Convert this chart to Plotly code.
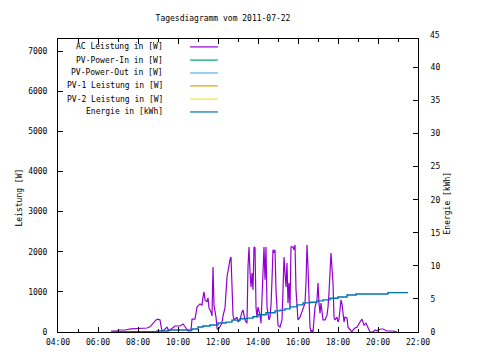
import plotly.graph_objects as go

DAY = "2011-07-22"

# AC Leistung [W]
ac_times = ["06:39","06:54","07:03","07:21","07:39","08:06","08:27","08:36","08:45","08:54",
            "09:00","09:06","09:09","09:12","09:18","09:27","09:33","09:42","09:51","10:06",
            "10:15","10:24","10:30","10:39","10:42","10:51","10:54","10:57","11:06","11:12",
            "11:15","11:18","11:21","11:27","11:30","11:33","11:39","11:42","11:45","11:48",
            "11:54","11:57","12:00","12:06","12:12","12:15","12:21","12:27","12:30","12:36",
            "12:39","12:42","12:45","12:48","12:57","13:00","13:06","13:12","13:15","13:21",
            "13:27","13:30","13:33","13:36","13:39","13:42","13:45","13:48","13:51","13:54",
            "13:57","14:00","14:06","14:09","14:12","14:15","14:18","14:21","14:24","14:27",
            "14:30","14:33","14:36","14:39","14:42","14:45","14:48","14:51","14:54","14:57",
            "15:00","15:06","15:12","15:15","15:18","15:21","15:24","15:27","15:30","15:33",
            "15:36","15:39","15:45","15:48","15:51","15:54","15:57","16:00","16:06","16:12",
            "16:15","16:21","16:24","16:27","16:30","16:33","16:36","16:39","16:42","16:45",
            "16:48","16:51","16:57","17:00","17:03","17:06","17:09","17:12","17:15","17:21",
            "17:27","17:30","17:33","17:39","17:42","17:45","17:48","17:51","17:57","18:00",
            "18:03","18:09","18:12","18:15","18:18","18:21","18:27","18:30","18:36","18:42",
            "18:45","18:51","18:57","19:00","19:06","19:12","19:15","19:18","19:24","19:27",
            "19:30","19:36","19:45","19:51","19:57","20:00","20:09","20:15","20:27","20:45",
            "20:57"]
ac_watt = [20,20,50,50,80,100,100,130,220,300,
           320,300,150,30,50,120,30,100,150,150,
           200,100,30,30,320,320,550,620,700,670,
           870,1000,800,750,850,600,500,400,1620,670,
           370,100,50,120,220,400,600,1370,1550,1800,
           1870,1100,420,300,370,250,300,500,550,300,
           220,1620,2120,1500,1120,1470,1050,2120,2100,620,
           370,620,420,220,1050,1800,2120,1300,2120,620,
           370,300,370,670,1300,2050,1970,2050,1050,620,
           170,120,300,1050,1870,1470,1120,1720,720,1220,
           620,2120,2120,2050,2170,1050,550,300,370,500,
           600,720,1220,2170,1620,800,120,0,50,0,
           370,620,800,1220,720,470,720,500,300,300,
           420,620,970,1970,1600,1220,370,300,370,250,
           320,800,700,370,250,370,350,120,50,0,
           50,100,120,170,250,320,250,170,220,170,
           100,0,0,50,25,50,75,75,25,25,
           0]

# Energie [kWh]
en_times = ["06:45","08:57","09:30","10:42","11:00","11:15","11:36","12:00","12:24","12:42",
            "13:06","13:27","13:45","14:00","14:24","14:51","15:06","15:21","15:36","15:57",
            "16:15","16:36","16:57","17:15","17:36","18:00","18:27","18:54","20:30","21:30"]
en_kwh = [0.05,0.15,0.3,0.45,0.75,0.9,1.06,1.36,1.5,1.8,
          2.0,2.1,2.3,2.6,2.9,3.2,3.3,3.5,3.8,4.1,
          4.4,4.5,4.7,4.85,5.1,5.3,5.6,5.75,5.95,5.95]

legend_names = ["AC Leistung in [W]", "PV-Power-In in [W]", "PV-Power-Out in [W]",
                "PV-1 Leistung in [W]", "PV-2 Leistung in [W]", "Energie in [kWh]"]
legend_colors = ["#9400d3", "#009e73", "#56b4e9", "#e69f00", "#f0e442", "#0072b2"]

x_ticks = ["04:00","06:00","08:00","10:00","12:00","14:00","16:00","18:00","20:00","22:00"]
y_ticks = [0,1000,2000,3000,4000,5000,6000,7000]
y2_ticks = [0,5,10,15,20,25,30,35,40]

FONT = "DejaVu Sans Mono"
TXT = dict(family=FONT, size=8, color="black")

fig = go.Figure()
fig.add_trace(go.Scatter(x=[f"{DAY} {t}" for t in ac_times], y=ac_watt, mode="lines",
                         line=dict(color=legend_colors[0], width=1.2), showlegend=False))
fig.add_trace(go.Scatter(x=[f"{DAY} {t}" for t in en_times], y=en_kwh, mode="lines",
                         line=dict(color=legend_colors[5], width=1.4, shape="hv"),
                         yaxis="y2", showlegend=False))

# manual legend (gnuplot style: text right-aligned, sample on the right)
row_y = [0.973, 0.928, 0.884, 0.840, 0.795, 0.751]
anns = []
shapes = []
for name, col, yy in zip(legend_names, legend_colors, row_y):
    anns.append(dict(x=0.297, y=yy, xref="paper", yref="paper", text=name, showarrow=False,
                     xanchor="right", yanchor="middle", font=TXT))
    shapes.append(dict(type="line", xref="paper", yref="paper", x0=0.367, x1=0.444, y0=yy, y1=yy,
                       line=dict(color=col, width=1.2)))

# "45" label of the energy axis sits just above the frame
anns.append(dict(x=1.0, y=(332 - 35) / 293, xref="paper", yref="paper", text="45", showarrow=False,
                 xanchor="left", yanchor="middle", xshift=10, font=TXT))
# axis titles as rotated annotations
anns.append(dict(x=-(58 - 12) / 360, y=(332 - 198) / 293, xref="paper", yref="paper",
                 text="Leistung [W]", textangle=-90, showarrow=False, font=TXT))
anns.append(dict(x=1 + (453 - 418) / 360, y=(332 - 203) / 293, xref="paper", yref="paper",
                 text="Energie [kWh]", textangle=-90, showarrow=False, font=TXT))

fig.update_layout(
    width=480, height=360,
    margin=dict(l=50, r=70, t=31, b=36),
    paper_bgcolor="white", plot_bgcolor="white",
    font=TXT,
    title=dict(text="Tagesdiagramm vom 2011-07-22", x=215 / 480, y=1 - 10 / 360,
               xref="container", yref="container", xanchor="center", yanchor="middle", font=TXT),
    annotations=anns, shapes=shapes,
    xaxis=dict(range=[f"{DAY} 04:00", f"{DAY} 22:00"], type="date",
               tickvals=[f"{DAY} {t}" for t in x_ticks], ticktext=x_ticks,
               ticks="inside", ticklen=5, tickcolor="black", showline=True, linecolor="black",
               linewidth=1, mirror="ticks", showgrid=False, zeroline=False,
               minor=dict(dtick=3600000, ticks="inside", ticklen=3, tickcolor="black", showgrid=False),
               ticklabelstandoff=2),
    yaxis=dict(range=[0, 7300], tickvals=y_ticks, ticks="inside", ticklen=5, tickcolor="black",
               showline=True, linecolor="black", linewidth=1, showgrid=False, zeroline=False,
               ticklabelstandoff=8),
    yaxis2=dict(range=[0, 44.3], tickvals=y2_ticks, overlaying="y", side="right",
                ticks="inside", ticklen=5, tickcolor="black", showline=True, linecolor="black",
                linewidth=1, showgrid=False, zeroline=False, ticklabelstandoff=10),
)

fig.write_html("out.html")
